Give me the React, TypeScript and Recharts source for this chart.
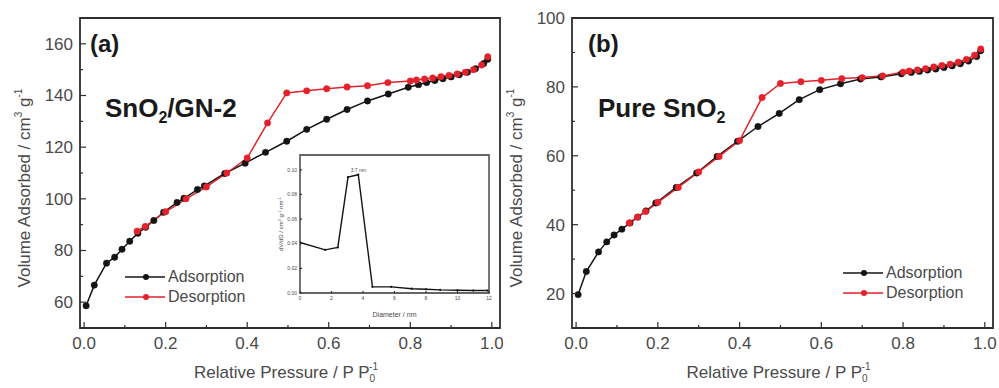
import React from 'react';
import { LineChart, Line, XAxis, YAxis, ReferenceArea, ReferenceDot, Legend, Customized } from 'recharts';

const FONT = '"Liberation Sans", Arial, Helvetica, sans-serif';
const AXIS = '#2e2e2e';
const TEXT = '#4a4a4a';
const BLACK = '#141414';
const RED = '#e3222b';

// (a) SnO2/GN-2 isotherm
const aAdsP = [0.005, 0.025, 0.055, 0.075, 0.093, 0.112, 0.132, 0.151, 0.171, 0.195, 0.228, 0.245, 0.278, 0.295, 0.345, 0.395, 0.445, 0.497, 0.546, 0.595, 0.645, 0.695, 0.746, 0.795, 0.82, 0.84, 0.86, 0.88, 0.9, 0.92, 0.94, 0.96, 0.98, 0.99];
const aAdsV = [58.6, 66.6, 75.1, 77.4, 80.5, 83.6, 86.7, 89.0, 91.6, 94.8, 98.6, 100.2, 103.6, 105.0, 109.8, 113.8, 118.0, 122.3, 126.9, 130.8, 134.6, 137.9, 140.6, 143.2, 144.2, 145.0, 145.8, 146.5, 147.2, 148.0, 149.0, 150.4, 152.4, 154.0];
const aDesP = [0.99, 0.975, 0.955, 0.935, 0.915, 0.895, 0.875, 0.855, 0.835, 0.815, 0.8, 0.745, 0.695, 0.645, 0.595, 0.546, 0.497, 0.45, 0.4, 0.35, 0.3, 0.25, 0.2, 0.15, 0.13];
const aDesV = [155.0, 151.8, 150.0, 149.0, 148.3, 147.8, 147.3, 146.8, 146.4, 146.0, 145.6, 145.0, 143.8, 143.3, 142.6, 141.8, 141.0, 129.4, 115.8, 110.0, 104.6, 100.0, 95.0, 89.3, 87.5];

// (b) pure SnO2 isotherm
const bAdsP = [0.005, 0.025, 0.055, 0.075, 0.093, 0.112, 0.132, 0.151, 0.171, 0.195, 0.245, 0.295, 0.345, 0.395, 0.445, 0.497, 0.546, 0.596, 0.647, 0.696, 0.746, 0.796, 0.82, 0.84, 0.86, 0.88, 0.9, 0.92, 0.94, 0.96, 0.98, 0.99];
const bAdsV = [19.7, 26.4, 32.1, 35.0, 37.0, 38.7, 40.5, 42.2, 44.0, 46.3, 50.8, 55.0, 59.8, 64.2, 68.5, 72.3, 76.3, 79.2, 80.9, 82.3, 82.9, 83.8, 84.2, 84.5, 84.9, 85.2, 85.6, 86.1, 86.7, 87.5, 88.8, 90.5];
const bDesP = [0.99, 0.975, 0.955, 0.935, 0.915, 0.895, 0.875, 0.855, 0.835, 0.815, 0.8, 0.75, 0.7, 0.65, 0.6, 0.55, 0.5, 0.455, 0.4, 0.35, 0.3, 0.25, 0.2, 0.17, 0.15, 0.13];
const bDesV = [91.0, 89.2, 88.0, 87.2, 86.6, 86.2, 85.8, 85.3, 84.9, 84.6, 84.3, 83.2, 82.7, 82.4, 81.9, 81.5, 81.0, 76.9, 64.4, 59.8, 55.3, 50.8, 46.5, 43.8, 42.2, 40.5];

// inset: pore size distribution of SnO2/GN-2
const insetD = [0, 1.6, 2.4, 3.05, 3.7, 4.6, 5.8, 7.1, 8.0, 8.9, 10.0, 11.0, 11.9];
const insetDv = [0.041, 0.035, 0.037, 0.094, 0.096, 0.005, 0.005, 0.0035, 0.003, 0.0025, 0.0022, 0.002, 0.002];

const pressureMajor = [0, 0.2, 0.4, 0.6, 0.8, 1.0];
const pressureMinor = [0.1, 0.3, 0.5, 0.7, 0.9];
const aVolMajor = [60, 80, 100, 120, 140, 160];
const aVolMinor = [70, 90, 110, 130, 150];
const bVolMajor = [20, 40, 60, 80, 100];
const bVolMinor = [30, 50, 70, 90];
const insetDTicks = [0, 2, 4, 6, 8, 10, 12];
const insetDvTicks = [0, 0.02, 0.04, 0.06, 0.08, 0.1];

const P_DOMAIN: [number, number] = [-0.01, 1.02];

const toPoints = (ps: number[], vs: number[]) => ps.map((p, i) => ({ p, v: vs[i] }));

// ticks point inward; minor ticks are half length and unlabeled
const bottomTick = (major: number[], fmt: (v: number) => string, size: number, len: number, gap: number) => (props: any) => {
  const { x, y, payload } = props;
  const isMajor = major.includes(payload.value);
  return (
    <g>
      <line x1={x} x2={x} y1={y} y2={y - (isMajor ? len : len / 2)} stroke={AXIS} strokeWidth={1.2} />
      {isMajor && (
        <text x={x} y={y + gap} dy="0.71em" textAnchor="middle" fontSize={size} fontFamily={FONT} fill={TEXT}>
          {fmt(payload.value)}
        </text>
      )}
    </g>
  );
};

const leftTick = (major: number[], fmt: (v: number) => string, size: number, len: number, gap: number) => (props: any) => {
  const { x, y, payload } = props;
  const isMajor = major.includes(payload.value);
  return (
    <g>
      <line x1={x} x2={x + (isMajor ? len : len / 2)} y1={y} y2={y} stroke={AXIS} strokeWidth={1.2} />
      {isMajor && (
        <text x={x - gap} y={y} dy="0.35em" textAnchor="end" fontSize={size} fontFamily={FONT} fill={TEXT}>
          {fmt(payload.value)}
        </text>
      )}
    </g>
  );
};

const PressureTitle = ({ viewBox }: any) => (
  <text x={viewBox.x + viewBox.width / 2 - 4} y={viewBox.y + 50} textAnchor="middle" fontSize={17} fontFamily={FONT} fill={TEXT}>
    Relative Pressure / P P
    <tspan fontSize={10} dy={4}>0</tspan>
    <tspan fontSize={10} dx={-6} dy={-12}>-1</tspan>
  </text>
);

const VolumeTitle = ({ viewBox }: any) => (
  <text
    transform={`translate(${viewBox.x - 6},${viewBox.y + viewBox.height / 2 + 15}) rotate(-90)`}
    textAnchor="middle"
    dominantBaseline="central"
    fontSize={17}
    fontFamily={FONT}
    fill={TEXT}
  >
    Volume Adsorbed / cm<tspan fontSize={10} dy={-6}>3</tspan>
    <tspan dy={6}> g</tspan>
    <tspan fontSize={10} dy={-6}>-1</tspan>
  </text>
);

const IsoLegend = (props: any) => (
  <div style={{ fontFamily: FONT, fontSize: 16, color: TEXT }}>
    {(props.payload || []).map((item: any) => (
      <div key={item.value} style={{ display: 'flex', alignItems: 'center', height: 20 }}>
        <svg width={40} height={10}>
          <line x1={0} y1={5} x2={40} y2={5} stroke={item.color} strokeWidth={1.5} />
          <circle cx={21} cy={5} r={3} fill={item.color} />
        </svg>
        <span style={{ marginLeft: 3 }}>{item.value}</span>
      </div>
    ))}
  </div>
);

interface PanelProps {
  width: number;
  marginLeft: number;
  marginRight: number;
  ads: { p: number; v: number }[];
  des: { p: number; v: number }[];
  volDomain: [number, number];
  volMajor: number[];
  volMinor: number[];
  legendPos: { left: number; top: number };
  tag: string;
  tagX: number;
  sample: React.ReactNode;
  sampleX: number;
}

const IsothermPanel: React.FC<PanelProps> = (cfg) => (
  <LineChart width={cfg.width} height={388} margin={{ top: 18, right: cfg.marginRight, bottom: 30, left: cfg.marginLeft }}>
    <XAxis
      dataKey="p"
      type="number"
      domain={P_DOMAIN}
      allowDataOverflow
      ticks={[...pressureMajor, ...pressureMinor]}
      interval={0}
      tickSize={0}
      tickMargin={0}
      tickLine={false}
      axisLine={false}
      height={30}
      tick={bottomTick(pressureMajor, (v) => v.toFixed(1), 17, 6, 9)}
      label={{ content: PressureTitle }}
    />
    <YAxis
      dataKey="v"
      type="number"
      domain={cfg.volDomain}
      allowDataOverflow
      ticks={[...cfg.volMajor, ...cfg.volMinor]}
      interval={0}
      tickSize={0}
      tickMargin={0}
      tickLine={false}
      axisLine={false}
      width={50}
      tick={leftTick(cfg.volMajor, (v) => String(v), 17, 6, 7)}
      label={{ content: VolumeTitle }}
    />
    <ReferenceArea x1={P_DOMAIN[0]} x2={P_DOMAIN[1]} y1={cfg.volDomain[0]} y2={cfg.volDomain[1]} fill="none" stroke={AXIS} strokeWidth={1.8} ifOverflow="visible" />
    <Line
      data={cfg.ads}
      dataKey="v"
      name="Adsorption"
      stroke={BLACK}
      strokeWidth={1.5}
      dot={{ r: 3.2, fill: BLACK, stroke: BLACK, strokeWidth: 0.5 }}
      isAnimationActive={false}
    />
    <Line
      data={cfg.des}
      dataKey="v"
      name="Desorption"
      stroke={RED}
      strokeWidth={1.5}
      dot={{ r: 3.2, fill: RED, stroke: RED, strokeWidth: 0.5 }}
      isAnimationActive={false}
    />
    <Legend
      content={IsoLegend}
      layout="vertical"
      align="center"
      verticalAlign="middle"
      wrapperStyle={{ left: cfg.legendPos.left, top: cfg.legendPos.top, width: 160 }}
    />
    <Customized
      component={() => (
        <g fontFamily={FONT} fontWeight="bold" fill="#1a1a1a">
          <text x={cfg.tagX} y={52} fontSize={24}>{cfg.tag}</text>
          <text x={cfg.sampleX} y={117} fontSize={26}>{cfg.sample}</text>
        </g>
      )}
    />
  </LineChart>
);

const insetData = toPoints(insetD, insetDv);

const InsetTitleX = ({ viewBox }: any) => (
  <text x={viewBox.x + viewBox.width / 2} y={viewBox.y + 24} textAnchor="middle" fontSize={7} fontFamily={FONT} fill={TEXT}>
    Diameter / nm
  </text>
);

const InsetTitleY = ({ viewBox }: any) => (
  <text
    transform={`translate(${viewBox.x + 7},${viewBox.y + viewBox.height / 2}) rotate(-90)`}
    textAnchor="middle"
    dominantBaseline="central"
    fontSize={6}
    fontFamily={FONT}
    fill={TEXT}
  >
    dV/dD / cm<tspan fontSize={4} dy={-2}>3</tspan>
    <tspan dy={2}> g</tspan>
    <tspan fontSize={4} dy={-2}>-1</tspan>
    <tspan dy={2}> nm</tspan>
    <tspan fontSize={4} dy={-2}>-1</tspan>
  </text>
);

const PoreInset = () => (
  <LineChart width={232} height={175} margin={{ top: 7, right: 5, bottom: 12, left: 12 }}>
    <XAxis
      dataKey="d"
      type="number"
      domain={[0, 12]}
      allowDataOverflow
      ticks={insetDTicks}
      interval={0}
      tickSize={0}
      tickMargin={0}
      tickLine={false}
      axisLine={false}
      height={18}
      tick={bottomTick(insetDTicks, (v) => String(v), 5, 2, 3)}
      label={{ content: InsetTitleX }}
    />
    <YAxis
      dataKey="v"
      type="number"
      domain={[0, 0.112]}
      allowDataOverflow
      ticks={insetDvTicks}
      interval={0}
      tickSize={0}
      tickMargin={0}
      tickLine={false}
      axisLine={false}
      width={26}
      tick={leftTick(insetDvTicks, (v) => v.toFixed(2), 5, 2, 3)}
      label={{ content: InsetTitleY }}
    />
    <ReferenceArea x1={0} x2={12} y1={0} y2={0.112} fill="#ffffff" fillOpacity={1} stroke="#666" strokeWidth={1.8} ifOverflow="visible" />
    <Line
      data={insetData.map((pt) => ({ d: pt.p, v: pt.v }))}
      dataKey="v"
      stroke={BLACK}
      strokeWidth={1.4}
      dot={{ r: 1.1, fill: BLACK, stroke: BLACK, strokeWidth: 0 }}
      isAnimationActive={false}
    />
    <ReferenceDot
      x={insetD[4]}
      y={insetDv[4]}
      r={0}
      ifOverflow="visible"
      label={{ value: '3.7 nm', position: 'top', offset: 3, fontSize: 5, fill: TEXT, fontFamily: FONT }}
    />
  </LineChart>
);

export default function App() {
  return (
    <div style={{ position: 'absolute', left: 0, top: 0, width: 999, height: 388, background: '#fff', overflow: 'hidden' }}>
      <div style={{ position: 'absolute', left: 0, top: 0 }}>
        <IsothermPanel
          width={503}
          marginLeft={30}
          marginRight={3}
          ads={toPoints(aAdsP, aAdsV)}
          des={toPoints(aDesP, aDesV)}
          volDomain={[50, 170]}
          volMajor={aVolMajor}
          volMinor={aVolMinor}
          legendPos={{ left: 125, top: 267 }}
          tag="(a)"
          tagX={90}
          sample={
            <>
              SnO<tspan fontSize={16} dy={6}>2</tspan>
              <tspan dy={-6}>/GN-2</tspan>
            </>
          }
          sampleX={105}
        />
      </div>
      <div style={{ position: 'absolute', left: 262, top: 148 }}>
        <PoreInset />
      </div>
      <div style={{ position: 'absolute', left: 500, top: 0 }}>
        <IsothermPanel
          width={499}
          marginLeft={22}
          marginRight={6}
          ads={toPoints(bAdsP, bAdsV)}
          des={toPoints(bDesP, bDesV)}
          volDomain={[10, 100]}
          volMajor={bVolMajor}
          volMinor={bVolMinor}
          legendPos={{ left: 343, top: 263 }}
          tag="(b)"
          tagX={88}
          sample={
            <>
              Pure SnO<tspan fontSize={16} dy={6}>2</tspan>
            </>
          }
          sampleX={98}
        />
      </div>
    </div>
  );
}
